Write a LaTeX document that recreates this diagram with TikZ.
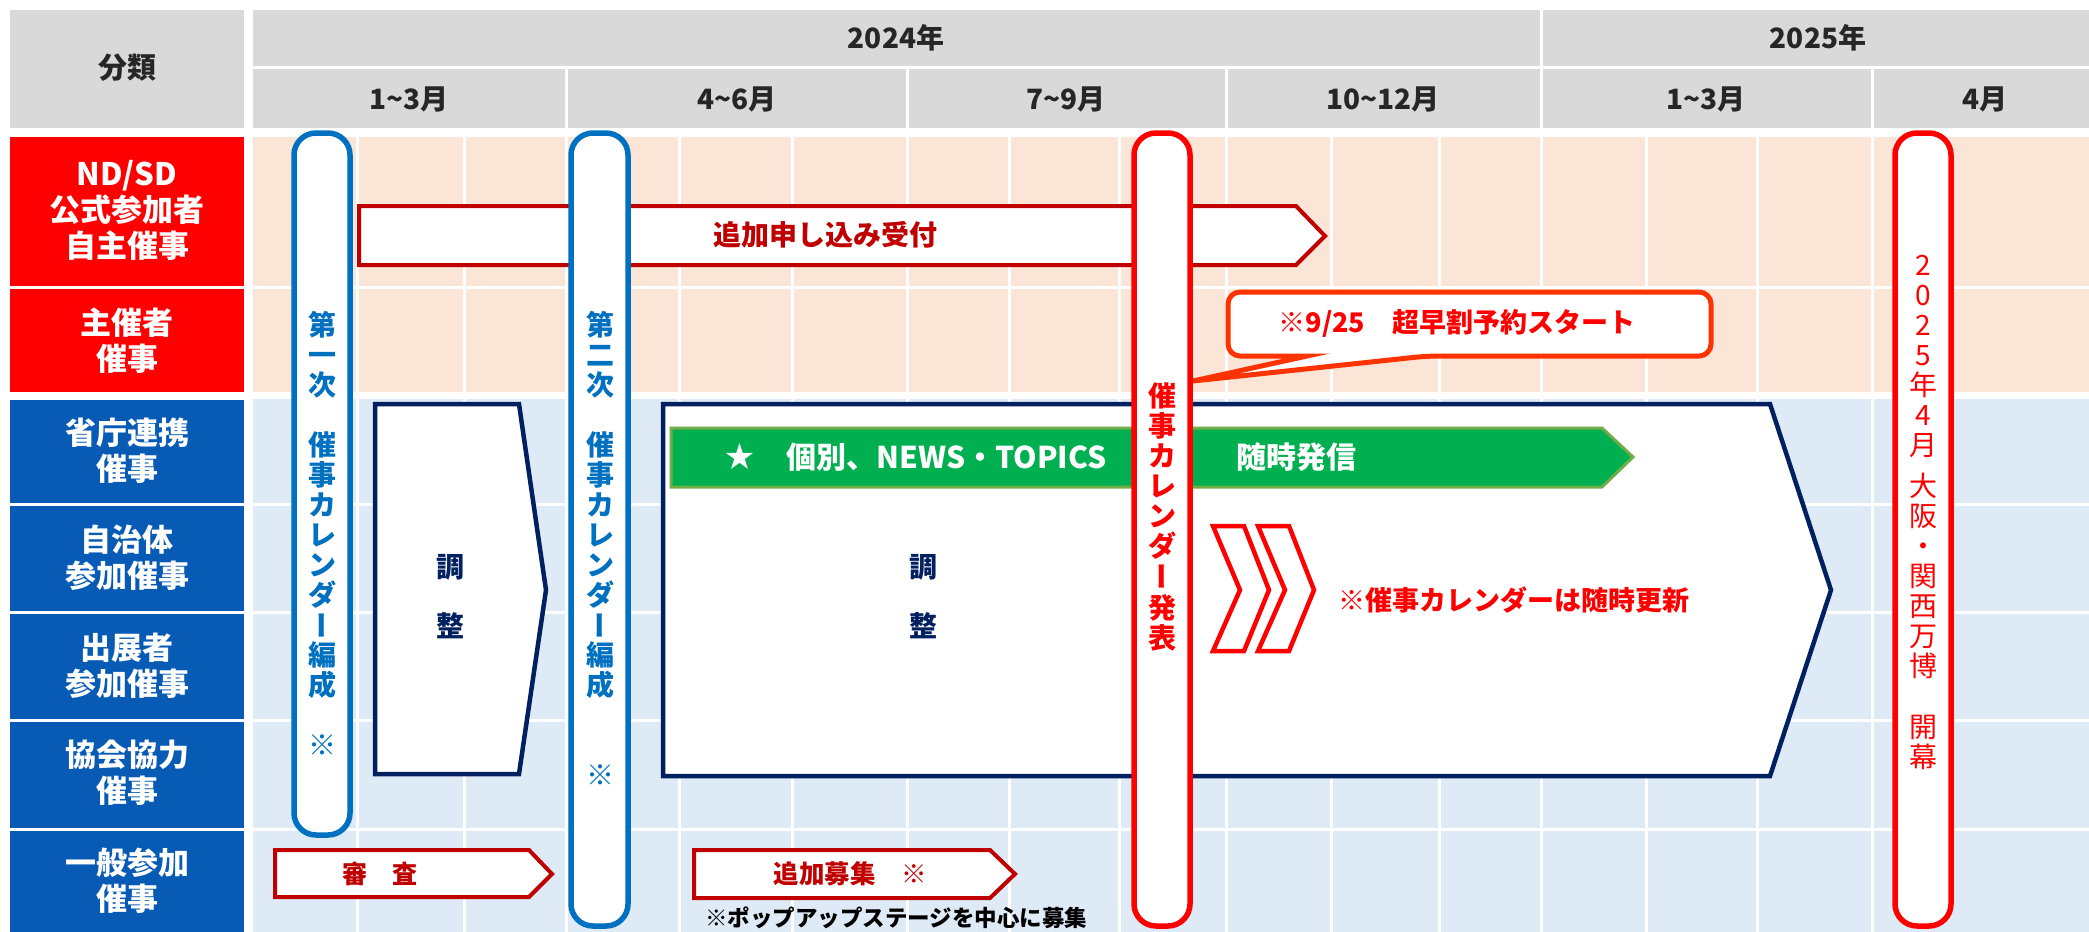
\documentclass[tikz,border=0pt]{standalone}
\usepackage{fontspec}
\usepackage{graphicx}
\setmainfont{Noto Sans CJK JP}
\definecolor{hdrgray}{HTML}{D9D9D9}
\definecolor{hdrtxt}{HTML}{262626}
\definecolor{catred}{HTML}{FF0000}
\definecolor{catblue}{HTML}{085BB5}
\definecolor{pinkbg}{HTML}{FBE5D6}
\definecolor{bluebg}{HTML}{DEEBF7}
\definecolor{colblue}{HTML}{0070C0}
\definecolor{darkred}{HTML}{C00000}
\definecolor{navyc}{HTML}{002060}
\definecolor{grfill}{HTML}{00B050}
\definecolor{grline}{HTML}{70AD47}
\definecolor{callred}{HTML}{FF3300}
\newcommand{\fsz}[2]{\fontsize{#1}{#2}\selectfont}
\newcommand{\vbar}{\rotatebox[origin=c]{90}{\vphantom{国}ー}}
\begin{document}
\begin{tikzpicture}[x=1pt,y=-1pt,
  gridline/.style={white,line width=3pt},
  hdrtext/.style={text=hdrtxt,font=\fsz{28}{30}\bfseries,inner sep=0pt},
  cattext/.style={text=white,font=\fsz{31}{36}\bfseries,align=center,inner sep=0pt},
  colbox/.style={fill=white,line width=5.5pt,rounded corners=22pt},
  vchar/.style={font=\fsz{28}{30}\bfseries,inner sep=0pt,text height=24.6pt,text depth=3.4pt,anchor=center},
  redarrow/.style={draw=darkred,fill=white,line width=4pt,line join=miter},
  navybox/.style={draw=navyc,fill=white,line width=4.5pt,line join=miter},
  chev/.style={draw=catred,fill=white,line width=4.5pt,line join=miter},
  boxtext/.style={font=\fsz{28}{30}\bfseries,inner sep=0pt}
]
\useasboundingbox (0,0) rectangle (2089,932);
\fill[white] (0,0) rectangle (2089,932);

% ---------- header ----------
\fill[hdrgray] (10,10) rectangle (244,128);
\fill[hdrgray] (253,10) rectangle (2089,128);
\draw[gridline] (253,67.5) -- (2089,67.5);
\draw[gridline] (1541,10) -- (1541,67);
\foreach \xx in {566,907,1226,1541,1872} \draw[gridline] (\xx,67) -- (\xx,128);
\node[hdrtext,font=\fsz{29}{30}\bfseries] (hcat) at (127,68) {分類};
\node[hdrtext] (y2024) at (896,38) {2024年};
\node[hdrtext] (y2025) at (1818,38) {2025年};
\node[hdrtext] (m1) at (409,99) {1\textasciitilde 3月};
\node[hdrtext] (m2) at (737,99) {4\textasciitilde 6月};
\node[hdrtext] (m3) at (1066,99) {7\textasciitilde 9月};
\node[hdrtext] (m4) at (1383,99) {10\textasciitilde 12月};
\node[hdrtext] (m5) at (1706,99) {1\textasciitilde 3月};
\node[hdrtext] (m6) at (1985,99) {4月};

% ---------- body background ----------
\fill[pinkbg] (253,137) rectangle (2089,392);
\fill[bluebg] (253,399) rectangle (2089,932);
\draw[gridline] (253,287.5) -- (2089,287.5);
\foreach \yy in {504.5,612.5,720.5,829.5} \draw[gridline] (253,\yy) -- (2089,\yy);
\foreach \xx in {357,464,566,679,792,907,1009,1119,1226,1331,1439,1541,1646,1757,1872}
  \draw[gridline] (\xx,137) -- (\xx,932);

% ---------- category cells ----------
\fill[catred] (10,137) rectangle (244,286);
\fill[catred] (10,289) rectangle (244,392);
\fill[catblue] (10,400) rectangle (244,503);
\fill[catblue] (10,506) rectangle (244,611);
\fill[catblue] (10,614) rectangle (244,719);
\fill[catblue] (10,722) rectangle (244,828);
\fill[catblue] (10,831) rectangle (244,940);
\node[cattext] (c1) at (127,210) {ND/SD\\公式参加者\\自主催事};
\node[cattext] (c2) at (127,341) {主催者\\催事};
\node[cattext] (c3) at (127,451) {省庁連携\\催事};
\node[cattext] (c4) at (127,558) {自治体\\参加催事};
\node[cattext] (c5) at (127,666) {出展者\\参加催事};
\node[cattext] (c6) at (127,773) {協会協力\\催事};
\node[cattext] (c7) at (127,881) {一般参加\\催事};

% ---------- arrows and boxes ----------
\draw[redarrow] (359,206) -- (1296,206) -- (1325,236) -- (1296,265) -- (359,265) -- cycle;
\node[boxtext,text=darkred] (t1) at (825,235) {追加申し込み受付};

\draw[redarrow] (275,850) -- (529,850) -- (552,874) -- (529,897) -- (275,897) -- cycle;
\node[boxtext,text=darkred,font=\fsz{25}{30}\bfseries] (t2) at (380,874) {審　査};

\draw[redarrow] (694,850) -- (990,850) -- (1015,874) -- (990,898) -- (694,898) -- cycle;
\node[boxtext,text=darkred,font=\fsz{25.5}{30}\bfseries] (t3) at (850,874) {追加募集　※};
\node[boxtext,anchor=west,text=black,font=\fsz{22.5}{26}\bfseries] (t4) at (705,918) {※ポップアップステージを中心に募集};

\draw[navybox] (375,404) -- (519,404) -- (546,590) -- (519,774) -- (375,774) -- cycle;
\node[boxtext,text=navyc] (a1) at (450,567) {調};
\node[boxtext,text=navyc] (a2) at (450,626) {整};

\draw[navybox] (663,404) -- (1770,404) -- (1831,590) -- (1770,776) -- (663,776) -- cycle;
\node[boxtext,text=navyc] (b1) at (923,567) {調};
\node[boxtext,text=navyc] (b2) at (923,626) {整};

\draw[draw=grline,fill=grfill,line width=3pt,line join=miter] (671,428) -- (1602,428) -- (1633,457) -- (1602,487) -- (671,487) -- cycle;
\node[boxtext,text=white,font=\fsz{29}{30}\bfseries] (g1) at (740,457) {★};
\node[boxtext,text=white,font=\fsz{30}{30}\bfseries,anchor=west] (g2) at (786,457) {個別、NEWS・TOPICS};
\node[boxtext,text=white,font=\fsz{30}{30}\bfseries,anchor=west] (g3) at (1236,457) {随時発信};

\draw[chev] (1213,526) -- (1244,526) -- (1269,590) -- (1244,651) -- (1213,651) -- (1240,590) -- cycle;
\draw[chev] (1258,526) -- (1289,526) -- (1314,590) -- (1289,651) -- (1258,651) -- (1285,590) -- cycle;
\node[boxtext,text=catred,font=\fsz{27}{30}\bfseries,anchor=west] (u1) at (1338,600) {※催事カレンダーは随時更新};

% callout
\draw[draw=callred,fill=white,line width=5pt] (1228,325) [rounded corners=12pt] -- (1228,292) -- (1711,292) -- (1711,356) -- (1427,356) [sharp corners] -- (1193,381) -- (1307,356) [rounded corners=12pt] -- (1228,356) -- cycle;
\node[boxtext,text=catred,font=\fsz{27}{30}\bfseries] (k1) at (1457,323) {※9/25　超早割予約スタート};

% ---------- vertical columns ----------
\draw[colbox,draw=colblue] (294,133) rectangle (350,835);
\draw[colbox,draw=colblue] (571,133) rectangle (628,926);
\draw[colbox,draw=catred] (1134,133) rectangle (1190,926);
\draw[colbox,draw=catred] (1895,133) rectangle (1951,926);

\foreach \ch/\yy [count=\i] in {第/325,一/355,次/385,催/445,事/475,カ/505,レ/535,ン/565,ダ/595,\vbar/625,編/655,成/685,※/745}
  \node[vchar,text=colblue] (va-\i) at (322,\yy) {\ch};
\foreach \ch/\yy [count=\i] in {第/325,二/355,次/385,催/445,事/475,カ/505,レ/535,ン/565,ダ/595,\vbar/625,編/655,成/685,※/775}
  \node[vchar,text=colblue] (vb-\i) at (600,\yy) {\ch};
\foreach \ch/\yy [count=\i] in {催/396,事/426,カ/456,レ/486,ン/516,ダ/546,\vbar/576,発/608,表/638}
  \node[vchar,text=catred] (vc-\i) at (1162,\yy) {\ch};
\foreach \ch/\yy [count=\i] in {2/265,0/295,2/325,5/355,年/385,4/415,月/445,大/486,阪/516,・/546,関/576,西/606,万/636,博/666,開/727,幕/757}
  \node[vchar,text=catred,font=\fsz{28}{30}] (vd-\i) at (1923,\yy) {\ch};
\end{tikzpicture}
\end{document}
